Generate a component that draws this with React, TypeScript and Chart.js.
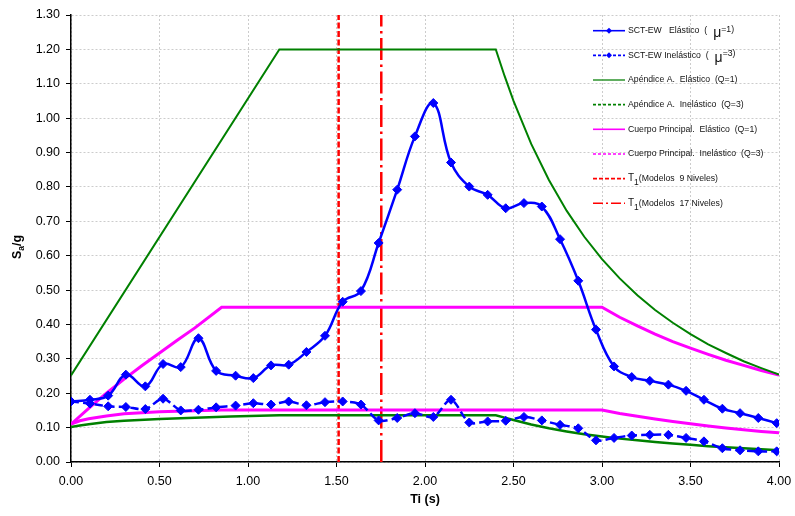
import React, { useEffect, useRef } from 'react';
import { Chart, registerables } from 'chart.js';

Chart.register(...registerables);

const FONT = "'Liberation Sans', Arial, sans-serif";

// ---- data ----
const periodsSCT = [0, 0.107, 0.21, 0.31, 0.42, 0.52, 0.62, 0.72, 0.82, 0.93, 1.03, 1.13, 1.23, 1.33, 1.435, 1.535, 1.638, 1.738, 1.843, 1.943, 2.047, 2.147, 2.25, 2.354, 2.456, 2.559, 2.66, 2.763, 2.866, 2.966, 3.068, 3.168, 3.27, 3.375, 3.475, 3.576, 3.68, 3.78, 3.883, 3.987];
const sctElastic = [0.176, 0.181, 0.193, 0.254, 0.22, 0.285, 0.276, 0.36, 0.265, 0.251, 0.244, 0.281, 0.283, 0.32, 0.367, 0.466, 0.497, 0.637, 0.792, 0.947, 1.044, 0.871, 0.801, 0.777, 0.738, 0.753, 0.743, 0.648, 0.527, 0.385, 0.278, 0.247, 0.236, 0.225, 0.207, 0.181, 0.155, 0.142, 0.128, 0.113];
const sctInelastic = [0.176, 0.17, 0.162, 0.16, 0.154, 0.184, 0.15, 0.152, 0.159, 0.164, 0.171, 0.167, 0.176, 0.165, 0.174, 0.176, 0.167, 0.121, 0.128, 0.142, 0.131, 0.181, 0.115, 0.118, 0.12, 0.131, 0.121, 0.108, 0.098, 0.063, 0.07, 0.077, 0.079, 0.079, 0.07, 0.06, 0.04, 0.034, 0.031, 0.031];

const apendElasticT = [0, 1.177, 2.4, 2.45, 2.5, 2.6, 2.7, 2.8, 2.9, 3.0, 3.1, 3.2, 3.3, 3.4, 3.5, 3.6, 3.7, 3.8, 3.9, 4.0];
const apendElasticSa = [0.252, 1.2, 1.2, 1.122, 1.05, 0.925, 0.82, 0.731, 0.655, 0.59, 0.534, 0.485, 0.442, 0.405, 0.372, 0.342, 0.317, 0.293, 0.273, 0.254];

const apendInelasticT = [0, 0.05, 0.1, 0.2, 0.3, 0.5, 0.7, 0.9, 1.177, 2.4, 2.45, 2.5, 2.6, 2.7, 2.8, 2.9, 3.0, 3.1, 3.2, 3.3, 3.4, 3.5, 3.6, 3.7, 3.8, 3.9, 4.0];
const apendInelasticSa = [0.102, 0.106, 0.11, 0.116, 0.12, 0.125, 0.129, 0.132, 0.136, 0.136, 0.129, 0.122, 0.109, 0.098, 0.089, 0.081, 0.074, 0.068, 0.063, 0.058, 0.054, 0.05, 0.046, 0.043, 0.04, 0.037, 0.034];

const cuerpoElasticT = [0, 0.1, 0.2, 0.3, 0.4, 0.5, 0.6, 0.7, 0.851, 3.0, 3.1, 3.2, 3.3, 3.4, 3.5, 3.6, 3.7, 3.8, 3.9, 4.0];
const cuerpoElasticSa = [0.11, 0.156, 0.2, 0.241, 0.28, 0.317, 0.354, 0.39, 0.45, 0.45, 0.421, 0.396, 0.372, 0.35, 0.331, 0.313, 0.296, 0.281, 0.266, 0.253];

const cuerpoInelasticT = [0, 0.05, 0.1, 0.2, 0.3, 0.5, 0.7, 0.851, 3.0, 3.1, 3.2, 3.3, 3.4, 3.5, 3.6, 3.7, 3.8, 3.9, 4.0];
const cuerpoInelasticSa = [0.11, 0.12, 0.126, 0.134, 0.14, 0.146, 0.149, 0.151, 0.151, 0.141, 0.133, 0.125, 0.118, 0.111, 0.105, 0.099, 0.094, 0.089, 0.085];

const t1Periods = [1.512, 1.753];
const t1Range = [0, 1.3];

const xTicks = { min: 0, max: 4, step: 0.5 };
const yTicks = { min: 0, max: 1.3, step: 0.1 };

const xTitle = 'Ti (s)';

// legend label parts: [text, style]  style 0 normal, 1 mu, 2 raised, 3 subscript, 4 big T
const legendLabels: [string, number][][] = [
  [['SCT-EW   Elástico  (', 0], ['μ', 1], ['=1)', 2]],
  [['SCT-EW Inelástico  (', 0], ['μ', 1], ['=3)', 2]],
  [['Apéndice A.  Elástico  (Q=1)', 0]],
  [['Apéndice A.  Inelástico  (Q=3)', 0]],
  [['Cuerpo Principal.  Elástico  (Q=1)', 0]],
  [['Cuerpo Principal.  Inelástico  (Q=3)', 0]],
  [['T', 4], ['1', 3], ['(Modelos  9 Niveles)', 0]],
  [['T', 4], ['1', 3], ['(Modelos  17 Niveles)', 0]],
];

const BLUE = '#0000ff';
const GREEN = '#008000';
const MAGENTA = '#ff00ff';
const RED = '#ff0000';

const legendStyles = [
  { color: BLUE, dash: [] as number[], marker: true },
  { color: BLUE, dash: [3, 2], marker: true },
  { color: '#3a9a3a', dash: [] as number[], marker: false },
  { color: GREEN, dash: [3, 2], marker: false },
  { color: MAGENTA, dash: [] as number[], marker: false },
  { color: MAGENTA, dash: [3, 2], marker: false },
  { color: RED, dash: [4, 2], marker: false },
  { color: RED, dash: [10, 3, 2, 3], marker: false },
];

const zip = (xs: number[], ys: number[]) => xs.map((x, i) => ({ x, y: ys[i] }));

const overlayPlugin = {
  id: 'overlay',
  afterDraw(chart: any) {
    const ctx: CanvasRenderingContext2D = chart.ctx;
    ctx.save();
    // legend
    const lx0 = 593, lx1 = 625, tx = 628, y0 = 30.7, dy = 24.65;
    legendLabels.forEach((parts, i) => {
      const st = legendStyles[i];
      const y = y0 + i * dy;
      ctx.strokeStyle = st.color;
      ctx.lineWidth = 1.6;
      ctx.setLineDash(st.dash);
      ctx.beginPath();
      ctx.moveTo(lx0, y);
      ctx.lineTo(lx1, y);
      ctx.stroke();
      ctx.setLineDash([]);
      if (st.marker) {
        const cx = (lx0 + lx1) / 2;
        ctx.fillStyle = st.color;
        ctx.beginPath();
        ctx.moveTo(cx, y - 3);
        ctx.lineTo(cx + 3, y);
        ctx.lineTo(cx, y + 3);
        ctx.lineTo(cx - 3, y);
        ctx.closePath();
        ctx.fill();
      }
      let x = tx;
      ctx.fillStyle = '#111';
      ctx.textAlign = 'left';
      ctx.textBaseline = 'middle';
      for (const [text, s] of parts) {
        let size = 8.7, dyy = 0, gapBefore = 0;
        if (s === 1) { size = 14; dyy = 2.5; gapBefore = 6; }
        if (s === 2) { size = 8.7; dyy = -1.5; }
        if (s === 3) { size = 8.5; dyy = 4; }
        if (s === 4) { size = 10; dyy = 0; }
        x += gapBefore;
        ctx.font = `${size}px ${FONT}`;
        ctx.fillText(text, x, y + dyy);
        x += ctx.measureText(text).width;
      }
    });

    // y-axis title: S_a/g
    ctx.fillStyle = '#000';
    const big = `bold 12.5px ${FONT}`;
    const small = `bold 8.5px ${FONT}`;
    ctx.font = big;
    const wS = ctx.measureText('S').width;
    const wG = ctx.measureText('/g').width;
    ctx.font = small;
    const wA = ctx.measureText('a').width;
    const total = wS + wA + wG;
    ctx.translate(18, 247);
    ctx.rotate(-Math.PI / 2);
    ctx.textBaseline = 'middle';
    ctx.textAlign = 'left';
    let px = -total / 2;
    ctx.font = big;
    ctx.fillText('S', px, 0);
    px += wS;
    ctx.font = small;
    ctx.fillText('a', px, 3.5);
    px += wA;
    ctx.font = big;
    ctx.fillText('/g', px, 0);
    ctx.setTransform(1, 0, 0, 1, 0, 0);

    // x-axis title
    const area = chart.chartArea;
    ctx.font = big;
    ctx.textAlign = 'center';
    ctx.textBaseline = 'middle';
    ctx.fillText(xTitle, (area.left + area.right) / 2, 500);
    ctx.restore();
  },
};

export default function App() {
  const ref = useRef<HTMLCanvasElement>(null);
  useEffect(() => {
    const canvas = ref.current;
    if (!canvas) return;
    const diamond = {
      pointStyle: 'rectRot' as const,
      pointRadius: 4.5,
      pointHoverRadius: 4.5,
      pointBackgroundColor: BLUE,
      pointBorderColor: BLUE,
      pointBorderWidth: 1,
    };
    const plain = { pointRadius: 0, pointHoverRadius: 0, fill: false, tension: 0 };
    const chart = new Chart(canvas, {
      type: 'line',
      data: {
        datasets: [
          { label: 'SCT-EW Elástico', data: zip(periodsSCT, sctElastic), borderColor: BLUE, borderWidth: 2.5, tension: 0.4, fill: false, ...diamond },
          { label: 'SCT-EW Inelástico', data: zip(periodsSCT, sctInelastic), borderColor: BLUE, borderWidth: 2.5, borderDash: [8, 4], tension: 0.3, fill: false, ...diamond },
          { label: 'Apéndice A. Elástico (Q=1)', data: zip(apendElasticT, apendElasticSa), borderColor: GREEN, borderWidth: 2, ...plain },
          { label: 'Apéndice A. Inelástico (Q=3)', data: zip(apendInelasticT, apendInelasticSa), borderColor: GREEN, borderWidth: 2.5, ...plain },
          { label: 'Cuerpo Principal. Elástico (Q=1)', data: zip(cuerpoElasticT, cuerpoElasticSa), borderColor: MAGENTA, borderWidth: 3, ...plain },
          { label: 'Cuerpo Principal. Inelástico (Q=3)', data: zip(cuerpoInelasticT, cuerpoInelasticSa), borderColor: MAGENTA, borderWidth: 3, ...plain },
          { label: 'T1 (Modelos 9 Niveles)', data: t1Range.map((y) => ({ x: t1Periods[0], y })), borderColor: RED, borderWidth: 2.5, borderDash: [6, 2.5], ...plain },
          { label: 'T1 (Modelos 17 Niveles)', data: t1Range.map((y) => ({ x: t1Periods[1], y })), borderColor: RED, borderWidth: 2.5, borderDash: [22, 4.5, 2.5, 4.5], ...plain },
        ],
      },
      options: {
        animation: false,
        responsive: false,
        devicePixelRatio: 1,
        layout: { padding: { left: 0, right: 16, top: 15, bottom: 0 } },
        plugins: { legend: { display: false }, tooltip: { enabled: false } },
        events: [],
        scales: {
          x: {
            type: 'linear',
            min: xTicks.min,
            max: xTicks.max,
            ticks: {
              stepSize: xTicks.step,
              callback: (v: any) => Number(v).toFixed(2),
              font: { family: FONT, size: 12.5 },
              color: '#000',
              padding: 7,
              maxRotation: 0,
              autoSkip: false,
            },
            grid: { color: '#cccccc', lineWidth: 1, tickColor: '#000', tickLength: 5, drawTicks: true },
            border: { display: true, color: '#000', width: 1.5, dash: [2, 2] },
            afterFit: (s: any) => { s.height = 54; s.paddingLeft = 0; s.paddingRight = 0; },
          },
          y: {
            type: 'linear',
            min: yTicks.min,
            max: yTicks.max,
            ticks: {
              stepSize: yTicks.step,
              callback: (v: any) => Number(v).toFixed(2),
              font: { family: FONT, size: 12.5 },
              color: '#000',
              padding: 6,
              autoSkip: false,
            },
            grid: { color: '#cccccc', lineWidth: 1, tickColor: '#000', tickLength: 5, drawTicks: true },
            border: { display: true, color: '#000', width: 1.5, dash: [2, 2] },
            afterFit: (s: any) => { s.width = 71; s.paddingTop = 0; s.paddingBottom = 0; },
          },
        },
      },
      plugins: [overlayPlugin],
    } as any);
    return () => chart.destroy();
  }, []);
  return (
    <div style={{ position: 'fixed', left: 0, top: 0, width: 795, height: 516, background: '#fff' }}>
      <canvas ref={ref} width={795} height={516} style={{ display: 'block', width: 795, height: 516 }} />
    </div>
  );
}
